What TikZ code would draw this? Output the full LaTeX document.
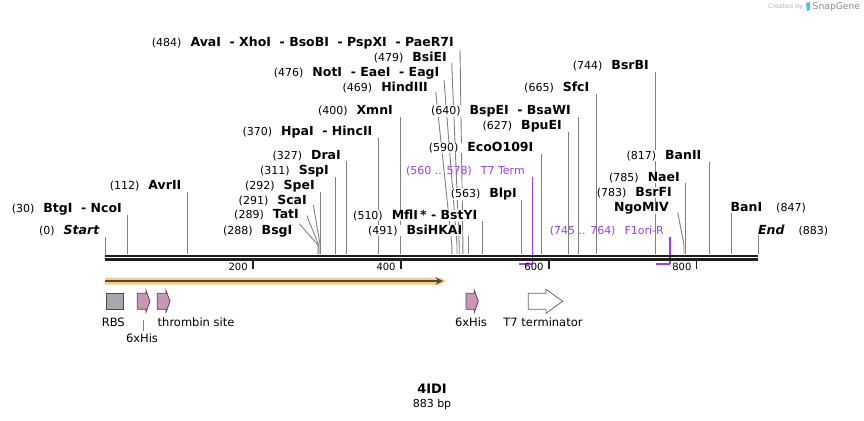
\documentclass[tikz,border=0pt]{standalone}
\usepackage{fontspec}
\setmainfont{DejaVu Sans}
\usetikzlibrary{positioning,backgrounds}
\colorlet{cutgray}{black!50}
\definecolor{termpurple}{HTML}{A03CF0}
\definecolor{hispink}{HTML}{C997B5}
\definecolor{rbsgray}{HTML}{A4A9AF}
\definecolor{orfband}{HTML}{F8CE86}
\definecolor{orfline}{HTML}{54483A}
\definecolor{snapblue}{HTML}{5BB8EC}
\tikzstyle{site}=[inner sep=0pt, fill=white, anchor=base east, font=\fontsize{12.5}{14}\selectfont\bfseries]
\tikzstyle{term}=[inner sep=0pt, anchor=base east, text=termpurple, font=\fontsize{11}{13}\selectfont]
\tikzstyle{cut}=[cutgray, line width=0.9pt]
\tikzstyle{termline}=[termpurple, line width=1.5pt]
\tikzstyle{featlabel}=[inner sep=0pt, anchor=base, font=\fontsize{11.5}{13}\selectfont]
\tikzstyle{his}=[draw=black!70, fill=hispink, line width=0.8pt]
\newcommand\pos[1]{{\fontsize{11}{13}\selectfont\mdseries(#1)}\hspace{9pt}}

\begin{document}
\begin{tikzpicture}[x=1pt, y=-1pt, >=stealth]
  \useasboundingbox (0,0) rectangle (864,420);

  % cut sites on the backbone, and bend points for crowded labels
  \foreach \p in {0,30,112,288,289,291,292,311,327,370,400,469,476,479,484,491,510,
                  560,563,578,590,627,640,665,744,745,764,783,785,817,847,883}
    \coordinate (s\p) at ({105+\p*0.7395},254);
  \foreach \p in {288,289,291,469,476,479,484,783}
    \coordinate (k\p) at ({105+\p*0.7395},245);

  % enzyme labels
  \node[site] (ava)    at (454,46.5)  {\pos{484}AvaI~~- XhoI~~- BsoBI~~- PspXI~~- PaeR7I};
  \node[site] (bsie)   at (447,61.2)  {\pos{479}BsiEI};
  \node[site] (noti)   at (439.5,76.2) {\pos{476}NotI~~- EaeI~~- EagI};
  \node[site] (hind)   at (428,91.2)  {\pos{469}HindIII};
  \node[site] (xmn)    at (393,114.5) {\pos{400}XmnI};
  \node[site] (hpa)    at (372.5,135) {\pos{370}HpaI~~- HincII};
  \node[site] (dra)    at (341,159)   {\pos{327}DraI};
  \node[site] (ssp)    at (329,174.5) {\pos{311}SspI};
  \node[site] (spe)    at (315,189)   {\pos{292}SpeI};
  \node[site] (sca)    at (307,204.5) {\pos{291}ScaI};
  \node[site] (tat)    at (299,218.8) {\pos{289}TatI};
  \node[site] (bsg)    at (292.5,234) {\pos{288}BsgI};
  \node[site] (start)  at (99.5,234.5) {\pos{0}\itshape Start};
  \node[site] (btg)    at (122,212)   {\pos{30}BtgI~~- NcoI};
  \node[site] (avr)    at (181.5,189.5) {\pos{112}AvrII};
  \node[site] (mfl)    at (477.5,219.5) {\pos{510}MflI\,*~- BstYI};
  \node[site] (bsihka) at (462.5,234.5) {\pos{491}BsiHKAI};
  \node[site] (blp)    at (517,197)   {\pos{563}BlpI};
  \node[site] (eco)    at (533.5,151.8) {\pos{590}EcoO109I};
  \node[site] (bpue)   at (562,129.5) {\pos{627}BpuEI};
  \node[site] (bspe)   at (571,114.5) {\pos{640}BspEI~~- BsaWI};
  \node[site] (sfc)    at (589.5,91.8) {\pos{665}SfcI};
  \node[site] (bsrb)   at (649,69.5)  {\pos{744}BsrBI};
  \node[site] (ban2)   at (701.5,159.5) {\pos{817}BanII};
  \node[site] (nae)    at (680,181.2) {\pos{785}NaeI};
  \node[site] (bsrf)   at (672,196.2) {\pos{783}BsrFI};
  \node[site] (ngo)    at (669,211.2) {NgoMIV};
  \node[site, anchor=base west] (ban1) at (730.5,211.2)
    {BanI\hspace{14pt}\mdseries\fontsize{11}{13}\selectfont(847)};
  \node[site, anchor=base west] (end) at (758,234.5)
    {\itshape End\hspace{14pt}\mdseries\upshape\fontsize{11}{13}\selectfont(883)};
  \node[term] (t7) at (525,174.5) {(560 .. 578)\hspace{9pt}T7 Term};
  \node[term] (f1) at (664,234.5) {(745 .. 764)\hspace{9pt}F1ori-R};

  \begin{scope}[on background layer]
  % straight cut lines
  \draw[cut] (start.east -| s0) ++(0,6) -- (s0);
  \draw[cut] (btg.east -| s30) ++(0,6) -- (s30);
  \draw[cut] (avr.east -| s112) ++(0,6) -- (s112);
  \draw[cut] (spe.east -| s292) ++(0,6) -- (s292);
  \draw[cut] (ssp.east -| s311) ++(0,6) -- (s311);
  \draw[cut] (dra.east -| s327) ++(0,6) -- (s327);
  \draw[cut] (hpa.east -| s370) ++(0,6) -- (s370);
  \draw[cut] (xmn.east -| s400) ++(0,6) -- (s400);
  \draw[cut] (bsihka.east -| s491) ++(0,6) -- (s491);
  \draw[cut] (mfl.east -| s510) ++(0,6) -- (s510);
  \draw[cut] (blp.east -| s563) ++(0,6) -- (s563);
  \draw[cut] (eco.east -| s590) ++(0,6) -- (s590);
  \draw[cut] (bpue.east -| s627) ++(0,6) -- (s627);
  \draw[cut] (bspe.east -| s640) ++(0,6) -- (s640);
  \draw[cut] (sfc.east -| s665) ++(0,6) -- (s665);
  \draw[cut] (bsrb.east -| s744) ++(0,6) -- (s744);
  \draw[cut] (nae.east -| s785) ++(0,6) -- (s785);
  \draw[cut] (ban2.east -| s817) ++(0,6) -- (s817);
  \draw[cut] (ban1.west -| s847) ++(0,6) -- (s847);
  \draw[cut] (end.west -| s883) ++(0,6) -- (s883);

  % slanted cut lines
  \draw[cut] ([shift={(6pt,-6.5pt)}]ava.east) -- (k484) -- (s484);
  \draw[cut] ([shift={(4.7pt,-5.8pt)}]bsie.east) -- (k479) -- (s479);
  \draw[cut] ([shift={(4.5pt,-6.8pt)}]noti.east) -- (k476) -- (s476);
  \draw[cut] ([shift={(7.7pt,-4.5pt)}]hind.east) -- (k469) -- (s469);
  \draw[cut] ([shift={(6.3pt,-4.5pt)}]sca.east) -- (k291) -- (s291);
  \draw[cut] ([shift={(7.7pt,-0.5pt)}]tat.east) -- (k289) -- (s289);
  \draw[cut] ([shift={(6.8pt,7pt)}]bsg.east) -- (k288) -- (s288);
  \draw[cut] ([shift={(8.7pt,-4.5pt)}]ngo.east) -- (k783) -- (s783);

  % terminator and primer marks
  \draw[termline] (t7.east -| s578) ++(0,6) -- ([yshift=-10pt]s578);
  \draw[termline, line width=2.5pt] ([yshift=-10pt]s560) -- ([yshift=-10pt]s578);
  \draw[termline] (f1.east -| s764) ++(0,6) -- ([yshift=-10pt]s764);
  \draw[termline, line width=2.5pt] ([yshift=-10pt]s745) -- ([yshift=-10pt]s764);
  \end{scope}

  % backbone
  \draw[black!88, line width=2.5pt] ([yshift=-1.8pt]s0) -- ([yshift=-1.8pt]s883);
  \draw[black!88, line width=2.5pt] ([yshift=-5.3pt]s0) -- ([yshift=-5.3pt]s883);
  \foreach \t in {200,400,600,800} {
    \draw[black!88, line width=1.6pt] ({105+\t*0.7395},261) -- ++(0,7.5);
    \node[inner sep=0pt, anchor=base east, font=\fontsize{10}{12}\selectfont]
      (tick\t) at ({105+\t*0.7395-5},270) {\t};
  }

  % open reading frame
  \fill[orfband] (105,277.5) -- (440,277.5) -- (446,281) -- (440,284.5) -- (105,284.5) -- cycle;
  \draw[orfline, line width=2.2pt, ->] (105,281) -- (443,281);

  % features
  \draw[draw=black!70, fill=rbsgray, line width=0.8pt] (106.7,293.3) rectangle (123.3,309.3);
  \draw[his] (137.3,293.3) -- ++(8.7,0) -- ++(0,-3) -- ++(4,11) -- ++(-4,11) -- ++(0,-3) -- ++(-8.7,0) -- cycle;
  \draw[his] (157.3,293.3) -- ++(8.7,0) -- ++(0,-3) -- ++(4,11) -- ++(-4,11) -- ++(0,-3) -- ++(-8.7,0) -- cycle;
  \draw[his] (466,293.3) -- ++(8.3,0) -- ++(0,-3) -- ++(4,11) -- ++(-4,11) -- ++(0,-3) -- ++(-8.3,0) -- cycle;
  \draw[draw=black!60, fill=white, line width=0.8pt] (528.3,293.3) -- (546,293.3) -- (546,289.3)
    -- (562.7,301.3) -- (546,313.3) -- (546,309.3) -- (528.3,309.3) -- cycle;

  \node[featlabel] (rbs)   at (113.3,326.5) {RBS};
  \node[featlabel] (his1)  at (142,342.5)   {6xHis};
  \node[featlabel, anchor=base west] (thr) at (157.5,326.5) {thrombin site};
  \node[featlabel] (his2)  at (471,326.5)   {6xHis};
  \node[featlabel] (t7t)   at (543,326.5)   {T7 terminator};
  \draw[cut, line width=0.7pt] (his1.north) ++(1.3,-3) -- ++(0,-11);

  % name and length
  \node[inner sep=0pt, font=\fontsize{13}{15}\selectfont\bfseries] (title) at (432,389) {4IDI};
  \node[inner sep=0pt, font=\fontsize{11}{13}\selectfont] (len) at (432,404) {883 bp};

  % watermark
  \node[inner sep=0pt, anchor=east, text=black!30, font=\fontsize{6.3}{7}\selectfont] (made) at (803,7) {Created by};
  \fill[snapblue] (806,3) -- (810,2) -- (810,10) -- (807,11) -- cycle;
  \node[inner sep=0pt, anchor=west, text=black!45, font=\fontsize{9.2}{10}\selectfont] (snap) at (812.5,7) {SnapGene};
\end{tikzpicture}
\end{document}
